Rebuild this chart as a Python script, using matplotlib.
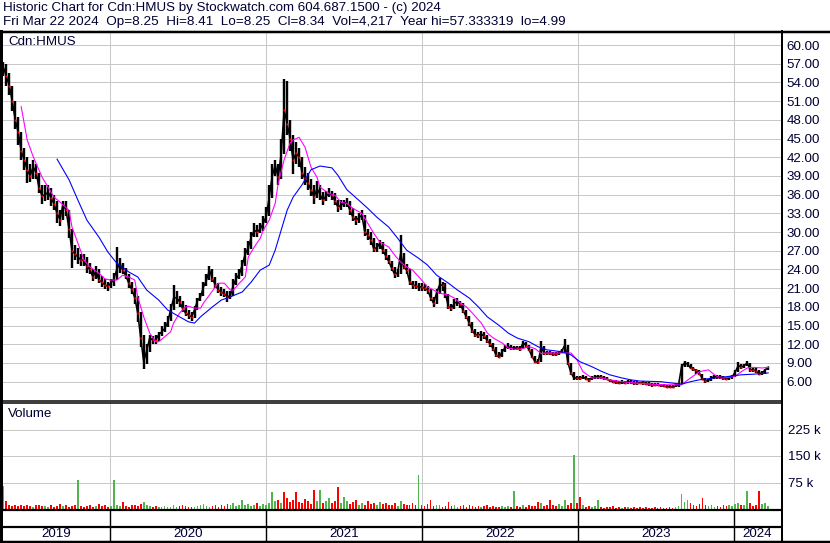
import numpy as np
import pandas as pd
import matplotlib
matplotlib.use("Agg")
import matplotlib.pyplot as plt
import matplotlib.dates as mdates

plt.rcParams['font.family'] = ['Liberation Sans', 'DejaVu Sans']

# ---------------- data (weekly) ----------------
first_week = "2019-04-26"
n_weeks = 257

close = [56.5,55,53.5,51,48,46,43,41.6,40,39,
         40.5,39.5,37,35.8,36,36.4,35.5,34.5,33,32,
         34.5,33.5,30.5,27,26.5,26,25.5,25.5,24.5,24,
         22.8,23.8,22.3,22,21.5,21.3,21.8,22.5,24,25,
         23.9,23,21.8,20.8,19.5,17,13,9.2,11,13,
         12.7,12.7,13.5,14,14.5,15.5,17.5,19.4,19.5,18.8,
         17.8,17,16.7,16.4,17.5,19,19.6,21.2,22.3,23.9,
         22.5,21.5,20.7,20.4,20.1,19.6,19.8,21.5,22.6,23.2,
         24.8,26.5,27.5,29.2,30.3,30,30.5,31.4,32.5,35.6,
         39,40.7,38.8,42.5,49.6,47.4,45,41.5,42.7,42,
         39.5,38.6,37.8,36.8,35.6,37,36,35.1,35.8,36.2,
         35.9,35,34,34.3,34.6,34.8,33.5,32.4,31.9,32.3,
         32.7,30,29.5,28.8,27.3,27.5,28.2,27.1,26.2,25.3,
         24.2,23.2,23.5,26.6,24.4,23.9,22,21.5,21.4,21.2,
         21.2,21,20.7,19.5,18.6,20.2,21.5,21.5,20,18,
         17.8,18.6,18.8,18.4,17.3,16.4,15.4,14.2,13.5,13.5,
         13.6,13.3,12.6,12,11.3,10.2,10,10.8,11.5,11.6,
         11.4,11.4,11.4,11.3,12.2,11.8,11.1,10,9.2,9.1,
         11.6,10.6,10.6,10.6,10.4,10.4,10.6,11,11.9,9,
         7.4,6.6,6.6,6.6,6.7,6.5,6.3,6.6,6.7,6.8,
         6.7,6.6,6.4,6.2,6,5.9,5.8,5.9,5.8,6,
         5.9,5.8,5.8,5.8,5.8,5.7,5.6,5.5,5.5,5.5,
         5.4,5.3,5.2,5.2,5.1,5.3,5.5,8.4,9,8.8,
         8.2,8,7.8,7.3,6.5,6.1,6.2,6.6,6.8,6.8,
         6.7,6.6,6.4,6.7,6.8,7.6,8.6,8.3,8.6,9,
         7.9,7.9,7.7,7.3,7.4,7.9,8.34]

high = [57.3,57,55.5,53.5,51,48.5,46,43.5,42,41,
        41.5,41,39.5,37.5,37.5,37.5,37,36,35,33.5,
        35,35,33.5,30.5,28,27.5,26.5,26.5,26,25,
        24,24.5,24,23,22.5,22,22.5,23.5,27.6,25.8,
        25,24.3,23.2,22,21,19.8,17.2,13.5,12,13.5,
        13.3,13.5,14,15,15.5,16.5,18.5,21.5,20.5,19.8,
        19,18.3,17.5,17.2,18.2,19.5,20.3,22,23.3,24.6,
        24,22.8,21.8,21.2,20.9,20.5,20.6,22.5,23.5,24,
        25.5,27.5,28.5,30,31.5,31.2,31.5,32.5,34,37.5,
        41,41.5,41,45,54.5,54.3,48,45.5,44.5,43.5,
        42,40.5,39.5,38.5,37.5,38.2,37.6,36.5,36.6,37,
        36.6,36.2,35.2,35.2,35.2,35.5,35,33.8,32.6,33,
        33.6,32.7,30.5,30,29,28.3,28.8,28.4,27.3,26.4,
        25.4,24.4,24,29.5,26.6,24.8,24,22.2,22.2,21.9,
        21.9,21.6,21.4,20.8,19.6,20.8,22.6,22,21.8,20.1,
        18.5,19.2,19.5,19,18.6,17.5,16.6,15.5,14.5,14,
        14.1,14,13.5,12.8,12.2,11.5,10.8,11.2,11.9,12.2,
        11.9,11.8,11.8,11.7,12.6,12.4,11.9,11.2,10.1,9.6,
        12.5,11.7,11,11,10.8,10.8,11,11.3,12.8,11.9,
        9,7.6,6.9,6.9,7,6.9,6.6,6.9,7,7.1,
        7,6.9,6.8,6.5,6.3,6.2,6.1,6.2,6.1,6.2,
        6.2,6.1,6.1,6,6.1,6,5.9,5.8,5.8,5.8,
        5.7,5.6,5.5,5.5,5.4,5.6,5.8,8.8,9.3,9.2,
        8.8,8.4,8.1,7.8,7.3,6.6,6.5,6.9,7.1,7.1,
        7,6.9,6.7,6.9,7,7.8,9.2,8.8,8.9,9.3,
        9,8.2,8.2,7.8,7.7,8.1,8.41]

low = [55,53.5,52,49.5,46.5,44,41.5,40,37.9,38,
       38.5,38.5,36.2,34.5,35,35.2,34.2,33.5,31.5,31,
       32,32.5,29,24.3,25.5,24.8,24.5,24.5,23.5,23.2,
       22.2,22.5,21.8,21.2,20.8,20.6,21,21.3,22.3,23.5,
       23.2,22.5,21,20,18.5,15.5,11.5,8,8.8,10.8,
       12,12,12.5,13.3,14,14.8,15.8,17.5,18.5,18,
       17.2,16.5,16,15.8,16.2,17.5,19,19.8,21.3,22.3,
       22,21,20.2,19.8,19.6,18.8,19.2,19.8,21.5,22.5,
       23,24.5,26.3,27.3,29.2,29.2,29.8,30.2,31.5,32.5,
       35.5,39,37.5,38.5,42.5,45.5,43,39.3,41,40.5,
       38.5,37.6,36.8,35.8,34.5,35.4,35.2,34.3,35,35.6,
       35.2,34.4,33.3,33.5,34,34,32.8,31.7,31.2,31.5,
       31.9,29.4,28.8,28,26.8,26.8,27.3,26.5,25.5,24.8,
       23.7,22.7,22.8,23.3,24,23.2,21.5,20.8,20.9,20.6,
       20.6,20.5,20.1,19,18,18.4,20,20.6,19.4,17.6,
       17.3,17.7,18.2,17.8,17,16,15,13.8,13.2,13,
       12.6,12.9,12.2,11.6,10.9,9.9,9.8,9.9,10.8,11.2,
       11.1,11.1,11.1,11,11.2,11.4,10.9,9.8,9,8.9,
       9.1,10.3,10.3,10.2,10.1,10.1,10.2,10.6,10.8,8.6,
       7.1,6.3,6.3,6.3,6.4,6.2,6,6.2,6.4,6.5,
       6.4,6.3,6.2,6,5.8,5.6,5.6,5.6,5.6,5.7,
       5.6,5.5,5.5,5.6,5.5,5.5,5.3,5.2,5.3,5.3,
       5.2,5.1,5,5,4.99,5.1,5.2,5.6,8.4,8.4,
       8,7.7,7.3,7,6.2,5.8,5.9,6.1,6.5,6.5,
       6.5,6.3,6.2,6.3,6.5,6.7,7.5,8,8.2,8.5,
       7.6,7.5,7.4,7,7.1,7.3,7.8]

# volume in thousands
volume = [64,22,12,9,11,8,10,9,12,8,
          7,10,12,8,9,6,11,7,9,13,
          8,10,7,9,12,81,9,6,8,11,
          7,9,14,8,10,6,9,81,12,8,
          20,9,7,10,12,8,14,20,10,8,
          6,9,7,5,8,6,7,10,6,9,
          12,8,5,7,6,9,10,14,8,6,
          9,12,7,11,8,14,10,18,9,12,
          25,10,14,8,12,16,9,13,11,18,
          47,22,26,18,48,30,20,26,48,20,
          16,28,22,14,53,24,53,18,22,30,
          16,24,63,18,33,22,14,20,26,12,
          18,10,24,14,16,11,20,13,18,10,
          12,16,9,22,14,10,12,18,10,96,
          12,9,14,25,8,10,12,7,9,20,
          8,11,6,9,12,7,10,8,6,9,
          7,8,10,6,9,7,5,8,6,9,
          7,52,8,6,10,7,12,9,8,19,
          16,9,12,25,10,8,14,9,26,12,
          18,154,16,33,10,6,8,5,9,25,
          6,4,7,5,8,4,6,3,5,7,
          4,6,3,5,4,7,3,4,6,3,
          5,3,4,6,3,5,8,43,20,25,
          16,12,9,14,30,10,8,12,7,9,
          6,10,8,12,9,14,18,10,12,52,
          16,9,12,52,14,18,8]

# direction of each week: g = up, r = down
direction = ("grrrrrrrrr" "grrrggrrrr" "grrrrgrrrr" "rgrrrrgggg" "rrrrrrrggg"
             "rrgggggggr" "rrrrgggggg" "rrrrrrgggg" "gggggrgggg" "ggrgrrrrrr"
             "rrrrrggrgg" "rrrgggrrrg" "grrrrggrrr" "rrggrrrrrg" "rrrrrggrrr"
             "rggrrrrrrr" "grrrrrrggg" "rgrrgrrrrr" "grrrrrgggr" "rgrrgrrggg"
             "rrrrrrrgrg" "rrrrrrrrrr" "rrrrrggggg" "rrrrrrgggr" "rrrggggrgg"
             "rrrrggg")

# moving averages (week index, value)
ma_fast_wk = [6,8,10,13,15,17,19,22,23,25,27,29,32,34,36,38,40,42,44,45,47,49,51,52,54,56,57,59,61,62,
              64,66,67,69,71,72,74,76,77,79,81,82,84,86,87,89,91,92,94,96,97,99,101,103,105,106,109,111,113,115,
              117,120,122,124,126,129,131,133,135,137,140,142,144,146,149,151,153,155,157,160,162,164,167,169,171,173,176,178,180,182,
              187,190,192,194,197,200,203,207,211,217,222,227,230,233,236,238,240,243,245,247,249,251,254,256]
ma_fast = [50.1,44.8,42.1,38.8,37.2,35.6,34.8,33.5,30.8,28.2,25.5,24.4,23.4,22.5,22.3,22.3,23.1,22.8,22.3,19.6,
           16.4,13.8,12.4,12.4,13.2,14,15.4,17,18,18.1,17.8,17.8,18.6,19.9,21.2,21.8,21.8,20.7,20.7,21.8,
           22.8,26,27.6,29,30.3,31.9,34.6,37.8,41.6,44.3,44.8,45.2,43.6,40.4,38.8,37.2,36.2,35.9,34.8,34.6,
           33.8,33,31.4,29.8,28.4,27.6,26.3,25.2,24.4,23.9,22.3,21.2,20.7,20.2,19.9,19.4,18.6,18,17,15.4,
           13.8,13,12.2,11.4,11.2,11.2,11.6,11.3,10.5,10.6,10.6,10.6,9.5,7.6,6.6,6.6,6.3,6.0,5.8,5.6,
           5.5,5.5,6.6,7.6,7.9,7.1,6.6,6.7,6.9,7.6,8.2,8.3,8.2,8.3]

ma_slow_wk = [18,22,25,28,32,35,38,42,45,48,52,55,59,62,64,66,70,73,76,80,83,86,89,91,93,95,97,100,103,106,
              110,112,115,119,122,125,129,132,135,139,142,145,149,152,156,159,162,166,169,172,176,179,182,187,190,193,197,200,203,207,
              210,213,220,227,230,233,238,242,247,251,256]
ma_slow = [41.7,38.4,35.1,31.9,29.2,26.8,25,23.6,22.8,20.7,19.1,17.5,16.4,15.6,15.4,16.4,18,19.1,19.6,20.4,
           22,23.9,24.7,27.1,30.3,33.5,35.6,37.6,40,40.6,40.3,39.1,36.8,35.1,33.8,32.4,30.8,29,27.1,25.8,
           24.7,23.1,21.8,20.7,19.4,18,16.4,15,13.8,13,12.4,11.6,11.1,10.8,10.3,9.2,8.4,7.7,7.1,6.6,
           6.3,6.1,6.0,5.6,6.0,6.3,6.6,6.8,7.1,7.2,7.4]

price_ticks = [6, 9, 12, 15, 18, 21, 24, 27, 30, 33, 36, 39, 42, 45, 48, 51, 54, 57, 60]
volume_ticks = [75, 150, 225]
volume_tick_labels = ["75 k", "150 k", "225 k"]
years = [2019, 2020, 2021, 2022, 2023, 2024]

header1 = "Historic Chart for Cdn:HMUS by Stockwatch.com 604.687.1500 - (c) 2024"
header2 = "Fri Mar 22 2024  Op=8.25  Hi=8.41  Lo=8.25  Cl=8.34  Vol=4,217  Year hi=57.333319  lo=4.99"
symbol = "Cdn:HMUS"

# ---------------- figure ----------------
W, H = 830, 543
fig = plt.figure(figsize=(W / 100, H / 100), dpi=100)
fig.patch.set_facecolor("white")


def rect(x0, y0, x1, y1):
    return [x0 / W, 1 - y1 / H, (x1 - x0) / W, (y1 - y0) / H]


PX = 0.72  # one pixel in points
GRID = "#c8c8c8"
GREEN = "#50b450"
RED = "#ff0000"
TXT = "#000033"

dates = pd.date_range(first_week, periods=n_weeks, freq="7D")
d = mdates.date2num(dates.to_pydatetime())
start = pd.Timestamp(first_week)
fast_d = mdates.date2num([(start + pd.Timedelta(days=7 * w)).to_pydatetime() for w in ma_fast_wk])
slow_d = mdates.date2num([(start + pd.Timedelta(days=7 * w)).to_pydatetime() for w in ma_slow_wk])
xlim = (mdates.date2num(pd.Timestamp("2019-04-23")), mdates.date2num(pd.Timestamp("2024-04-21")))
year_starts = [mdates.date2num(pd.Timestamp(f"{y}-01-01")) for y in years[1:]]
year_edges = [xlim[0]] + year_starts + [xlim[1]]

down = np.array([c == "r" for c in direction])
close_a = np.array(close)
vol_a = np.array(volume)

# price panel
ax = fig.add_axes(rect(2, 32, 781, 400))
ax.set_xlim(*xlim)
ax.set_ylim(3.06, 62.1)
for t in price_ticks:
    ax.axhline(t, color=GRID, lw=PX, zorder=0)
for ys in year_starts:
    ax.axvline(ys, color=GRID, lw=PX, zorder=0)
ax.vlines(d, low, high, color="black", lw=2.4 * PX, zorder=2)
ax.plot(d, close, color="black", lw=1.6 * PX, zorder=2)
ax.plot(d[down], close_a[down], ls="none", marker="s", ms=2.0, mec="none", mfc=RED, zorder=3)
ax.plot(fast_d, ma_fast, color="#ff00ff", lw=1.1 * PX, zorder=4)
ax.plot(slow_d, ma_slow, color="#0000ff", lw=1.1 * PX, zorder=4)
ax.yaxis.tick_right()
ax.set_yticks(price_ticks)
ax.set_yticklabels([f"{t:.2f}" for t in price_ticks], fontsize=9.6, color=TXT)
ax.tick_params(axis="y", length=0, pad=4)
ax.set_xticks([])
for s in ax.spines.values():
    s.set_visible(False)
ax.text(6 / 779, 1 - 10 / 368, symbol, transform=ax.transAxes, fontsize=9.6, va="center", ha="left",
        color=TXT)

# volume panel
axv = fig.add_axes(rect(2, 403, 781, 509))
axv.set_xlim(*xlim)
axv.set_ylim(0, 300)
for t in volume_ticks:
    axv.axhline(t, color=GRID, lw=PX, zorder=0)
for ys in year_starts:
    axv.axvline(ys, color=GRID, lw=PX, zorder=0)
vcol = [RED if dn else GREEN for dn in down]
axv.bar(d, vol_a, width=4.0, color=vcol, linewidth=0, zorder=2)
axv.yaxis.tick_right()
axv.set_yticks(volume_ticks)
axv.set_yticklabels(volume_tick_labels, fontsize=9.6, color=TXT)
axv.tick_params(axis="y", length=0, pad=5)
axv.set_xticks([])
for s in axv.spines.values():
    s.set_visible(False)
axv.text(6 / 779, 1 - 11 / 106, "Volume", transform=axv.transAxes, fontsize=9.6, va="center", ha="left",
         color=TXT)

# year strip
axy = fig.add_axes(rect(2, 509, 781, 541))
axy.set_xlim(*xlim)
axy.set_ylim(0, 1)
axy.axis("off")
for ys in year_starts:
    axy.axvline(ys, color="black", lw=1.4 * PX)
for i, y in enumerate(years):
    axy.text((year_edges[i] + year_edges[i + 1]) / 2, 0.22, str(y), ha="center", va="center",
             fontsize=9.6, color=TXT)

# frame overlay in pixel coordinates
ov = fig.add_axes([0, 0, 1, 1], zorder=10)
ov.set_xlim(0, W)
ov.set_ylim(H, 0)
ov.axis("off")
ov.patch.set_alpha(0)
ov.plot([0, W], [31.5, 31.5], color="black", lw=2.5 * PX)
ov.plot([1.2, 1.2], [31, 542], color="black", lw=3 * PX)
ov.plot([781.5, 781.5], [31, 542], color="black", lw=2 * PX)
ov.plot([0, 781], [400.5, 400.5], color="black", lw=1.5 * PX)
ov.plot([0, 781], [403.2, 403.2], color="black", lw=1.5 * PX)
ov.plot([0, 781], [509.5, 509.5], color="black", lw=2.2 * PX)
ov.plot([0, 781], [527, 527], color="black", lw=2.2 * PX)
ov.plot([0, W], [541.5, 541.5], color="black", lw=2.5 * PX)
ov.text(3, 8.5, header1, fontsize=9.6, va="center", ha="left", color=TXT)
ov.text(3, 22.5, header2, fontsize=9.7, va="center", ha="left", color=TXT)

fig.savefig("out.png", dpi=100, facecolor="white")
